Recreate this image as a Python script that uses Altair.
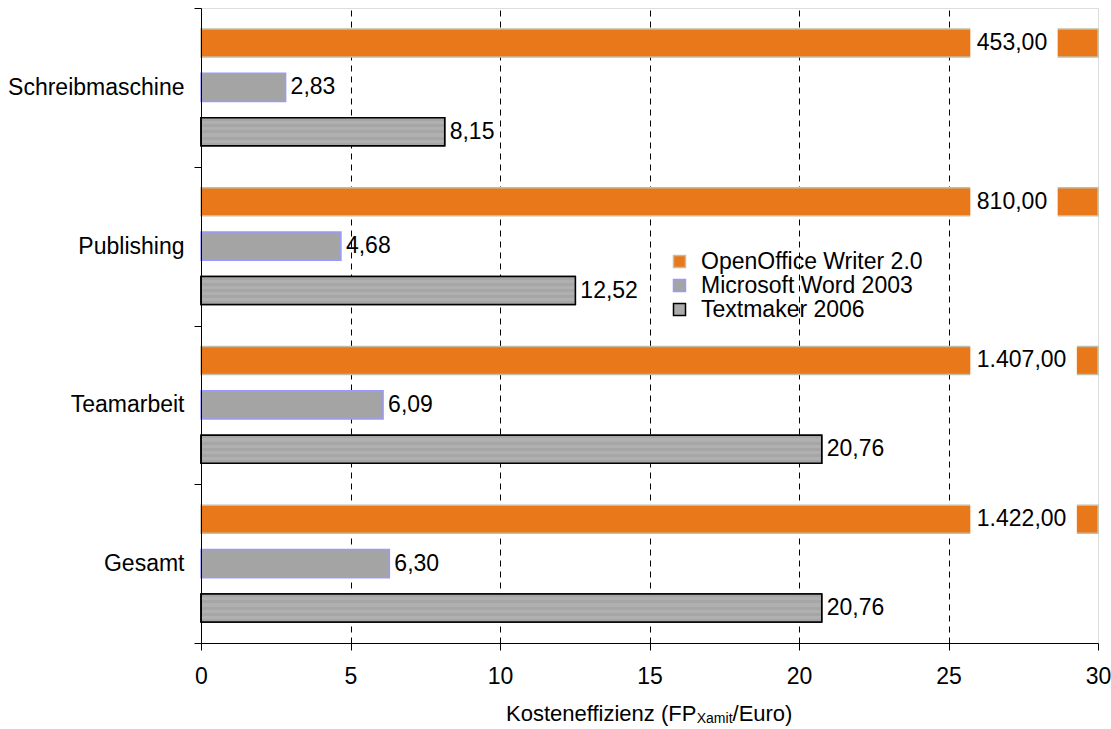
import altair as alt
import pandas as pd

categories = ["Schreibmaschine", "Publishing", "Teamarbeit", "Gesamt"]
series = ["OpenOffice Writer 2.0", "Microsoft Word 2003", "Textmaker 2006"]
openoffice = [453.00, 810.00, 1407.00, 1422.00]
word = [2.83, 4.68, 6.09, 6.30]
textmaker = [8.15, 12.52, 20.76, 20.76]
x_ticks = [0, 5, 10, 15, 20, 25, 30]

FONT = "Liberation Sans"
FS = 23
BREAK = 25.78          # where the clipped orange bars are interrupted by their label
PX_PER_UNIT = 897 / 30


def de(v):
    s = f"{v:,.2f}"
    return s.replace(",", "X").replace(".", ",").replace("X", ".")


rows = []
for i, c in enumerate(categories):
    for s, vals in zip(series, [openoffice, word, textmaker]):
        rows.append({"cat": c, "series": s, "value": vals[i], "label": de(vals[i])})
df = pd.DataFrame(rows)

x_enc = alt.X(
    "value:Q",
    scale=alt.Scale(domain=[0, 30], clamp=True, nice=False, zero=True),
    axis=alt.Axis(
        values=x_ticks, title=None, grid=True, gridColor="black", gridDash=[6, 5],
        gridWidth=1,
        gridOpacity=alt.condition("datum.value == 0 || datum.value == 30", alt.value(0), alt.value(1)),
        domainColor="black", tickColor="black", tickSize=7, labelFontSize=FS,
        labelFont=FONT, labelColor="black", labelPadding=15, format="d",
        labelFlush=False, labelAlign="center",
    ),
)
y_enc = alt.Y(
    "cat:N", sort=categories,
    scale=alt.Scale(paddingInner=0, paddingOuter=0),
    axis=alt.Axis(
        title=None, tickBand="extent", domainColor="black", tickColor="black",
        tickSize=7, labelFontSize=FS, labelFont=FONT, labelColor="black",
        labelPadding=10, zindex=1, labelLimit=0,
    ),
)
yoff_enc = alt.YOffset("series:N", sort=series,
                       scale=alt.Scale(domain=series, paddingInner=0.37, paddingOuter=0.47))

leg = alt.Legend(
    title=None, orient="none", legendX=467, legendY=242, symbolType="square",
    symbolSize=144, labelFontSize=FS, labelFont=FONT, labelColor="black",
    labelOffset=10, rowPadding=-3, padding=0, symbolStrokeWidth=1.5, labelLimit=0,
)

base = alt.Chart(df)

bars = base.mark_bar(strokeWidth=1.5).encode(
    x=x_enc, y=y_enc, yOffset=yoff_enc,
    fill=alt.Fill("series:N", sort=series,
                  scale=alt.Scale(domain=series, range=["#E8781A", "#A4A4A4", "#ABABAB"]),
                  legend=leg),
    stroke=alt.Stroke("series:N", sort=series,
                      scale=alt.Scale(domain=series, range=["#C2BEA6", "#9999FF", "#000000"]),
                      legend=leg),
)

stops = []
n = 9
for i in range(n):
    col = "#A6A6A6" if i % 2 == 0 else "#B0B0B0"
    stops.append(alt.GradientStop(offset=i / n, color=col))
    stops.append(alt.GradientStop(offset=(i + 1) / n, color=col))
stripe = alt.LinearGradient(gradient="linear", stops=stops, x1=0, x2=0, y1=0, y2=1)

tm_stripes = base.transform_filter(alt.datum.series == series[2]).mark_bar(
    fill=stripe, stroke="black", strokeWidth=1.5
).encode(x=x_enc, y=y_enc, yOffset=yoff_enc)

oo = base.transform_filter(alt.datum.series == series[0]).transform_calculate(
    digits="length(replace(replace(datum.label, ',', ''), '.', ''))",
).transform_calculate(
    punct="length(datum.label) - datum.digits",
).transform_calculate(
    box_end=f"{BREAK} + ((datum.digits * 0.556 + datum.punct * 0.278) * {FS} + 14) / {PX_PER_UNIT}",
    box_start=f"{BREAK}",
)

boxes = oo.mark_bar(color="white", stroke="white", strokeWidth=3).encode(
    x="box_start:Q", x2="box_end:Q", y=y_enc, yOffset=yoff_enc,
)
oo_text = oo.mark_text(align="left", baseline="middle", fontSize=FS, font=FONT,
                       color="black", dx=5).encode(
    x="box_start:Q", y=y_enc, yOffset=yoff_enc, text="label:N",
)

small_text = base.transform_filter(alt.datum.series != series[0]).mark_text(
    align="left", baseline="middle", fontSize=FS, font=FONT, color="black", dx=5
).encode(x=x_enc, y=y_enc, yOffset=yoff_enc, text="label:N")

TS = 22
SUB = 14
title_left = 305
p1_w = 8.67 * TS
sub_w = 2.556 * SUB
one = pd.DataFrame({"k": [0]})
t1 = alt.Chart(one).mark_text(align="left", baseline="middle", fontSize=TS, font=FONT,
                              color="black").encode(
    x=alt.value(title_left), y=alt.value(706), text=alt.value("Kosteneffizienz (FP"))
t2 = alt.Chart(one).mark_text(align="left", baseline="middle", fontSize=SUB, font=FONT,
                              color="black").encode(
    x=alt.value(title_left + p1_w), y=alt.value(711), text=alt.value("Xamit"))
t3 = alt.Chart(one).mark_text(align="left", baseline="middle", fontSize=TS, font=FONT,
                              color="black").encode(
    x=alt.value(title_left + p1_w + sub_w), y=alt.value(706), text=alt.value("/Euro)"))

chart = alt.layer(bars, tm_stripes, boxes, oo_text, small_text, t1, t2, t3).properties(
    width=897, height=635,
    autosize=alt.AutoSizeParams(type="none"),
    padding={"left": 201, "top": 8, "right": 13, "bottom": 86},
).configure_view(stroke="#808080", strokeWidth=1).configure(background="white")

chart.save("out.html", embed_options={"renderer": "svg", "actions": False})
